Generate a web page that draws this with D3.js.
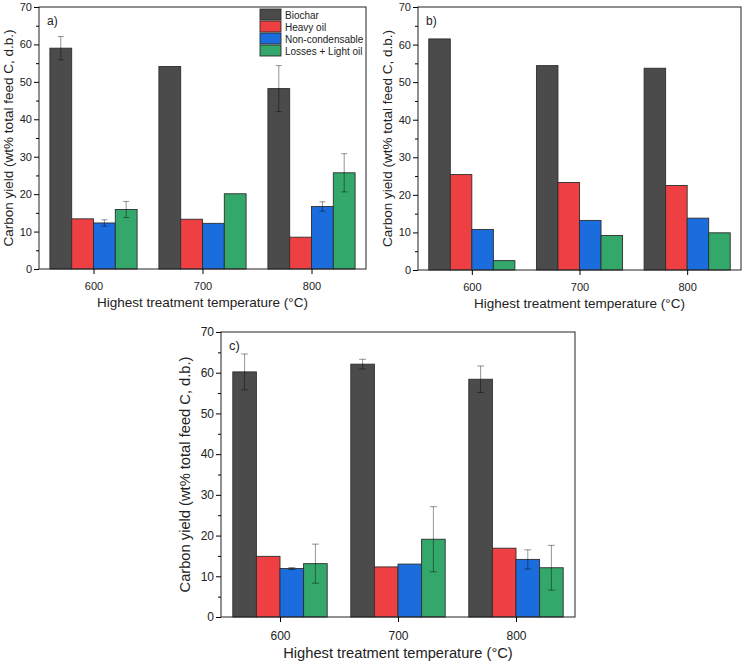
<!DOCTYPE html>
<html lang="en">
<head>
<meta charset="utf-8">
<script src="https://d3js.org/d3.v7.min.js"></script>
<style>
  body { margin: 0; padding: 0; background: #fff; }
  svg { display: block; font-family: "Liberation Sans", Arial, sans-serif; }
  .tick text { fill: #222; }
</style>
</head>
<body>
<svg id="chart" width="747" height="663"></svg>
<script>
// temperatures on the x axis
const temps = [600, 700, 800];
const seriesNames = ["Biochar", "Heavy oil", "Non-condensable", "Losses + Light oil"];
const seriesColors = ["#4b4b4b", "#ee4043", "#1b6cdc", "#34a76a"];
const yTicks = [0, 10, 20, 30, 40, 50, 60, 70];
const yMinorTicks = [5, 15, 25, 35, 45, 55, 65];

// panel a)
const aBiochar = [59.0, 54.1, 48.2];
const aBiocharErr = [3.1, 0, 6.15];
const aHeavy = [13.4, 13.3, 8.5];
const aHeavyErr = [0, 0, 0];
const aNonCond = [12.3, 12.2, 16.7];
const aNonCondErr = [0.85, 0, 1.25];
const aLosses = [15.9, 20.1, 25.7];
const aLossesErr = [2.15, 0, 5.1];

// panel b) (no error bars)
const bBiochar = [61.5, 54.4, 53.7];
const bHeavy = [25.4, 23.3, 22.5];
const bNonCond = [10.8, 13.2, 13.8];
const bLosses = [2.5, 9.2, 9.9];

// panel c)
const cBiochar = [60.2, 62.1, 58.4];
const cBiocharErr = [4.4, 1.2, 3.25];
const cHeavy = [14.9, 12.3, 16.9];
const cHeavyErr = [0, 0, 0];
const cNonCond = [11.9, 13.0, 14.15];
const cNonCondErr = [0.25, 0, 2.35];
const cLosses = [13.1, 19.1, 12.1];
const cLossesErr = [4.8, 8.0, 5.5];

const svg = d3.select('#chart');
svg.append('rect').attr('width', 747).attr('height', 663).attr('fill', '#fff');

function panel(opt) {
  const g = svg.append('g');
  const x = d3.scaleLinear().domain([550, 850]).range([opt.left, opt.right]);
  const y = d3.scaleLinear().domain([0, 70]).range([opt.bottom, opt.top]);
  const barW = x(620) - x(600);

  // bars
  opt.values.forEach((vals, s) => {
    g.selectAll(null)
     .data(vals)
     .enter()
     .append('rect')
     .attr('x', (d, i) => x(temps[i] - 40 + s * 20))
     .attr('y', d => y(d))
     .attr('width', barW)
     .attr('height', d => y(0) - y(d))
     .attr('fill', seriesColors[s])
     .attr('stroke', '#2e2e2e')
     .attr('stroke-width', 0.9);
  });

  // error bars
  if (opt.errors) {
    opt.errors.forEach((errs, s) => {
      errs.forEach((e, i) => {
        if (!e) return;
        const cx = x(temps[i] - 30 + s * 20);
        const v = opt.values[s][i];
        const eg = g.append('g')
          .attr('stroke', 'rgba(0,0,0,0.42)')
          .attr('stroke-width', 1);
        eg.append('line').attr('x1', cx).attr('x2', cx).attr('y1', y(v - e)).attr('y2', y(v + e));
        eg.append('line').attr('x1', cx - opt.cap).attr('x2', cx + opt.cap).attr('y1', y(v + e)).attr('y2', y(v + e));
        eg.append('line').attr('x1', cx - opt.cap).attr('x2', cx + opt.cap).attr('y1', y(v - e)).attr('y2', y(v - e));
      });
    });
  }

  // frame
  g.append('rect')
   .attr('x', opt.left).attr('y', opt.top)
   .attr('width', opt.right - opt.left).attr('height', opt.bottom - opt.top)
   .attr('fill', 'none').attr('stroke', '#222').attr('stroke-width', 1);

  // y axis
  const yAxis = d3.axisLeft(y).tickValues(yTicks).tickSize(5).tickPadding(2);
  g.append('g').attr('transform', 'translate(' + opt.left + ',0)').call(yAxis)
   .call(a => a.select('.domain').remove())
   .call(a => a.selectAll('text').attr('font-size', opt.tickFont).attr('font-family', 'Liberation Sans, Arial, sans-serif'));
  const yMinor = d3.axisLeft(y).tickValues(yMinorTicks).tickSize(3).tickFormat('');
  g.append('g').attr('transform', 'translate(' + opt.left + ',0)').call(yMinor)
   .call(a => a.select('.domain').remove());

  // x axis
  const xAxis = d3.axisBottom(x).tickValues(temps).tickSize(5).tickPadding(opt.xPad);
  g.append('g').attr('transform', 'translate(0,' + opt.bottom + ')').call(xAxis)
   .call(a => a.select('.domain').remove())
   .call(a => a.selectAll('text').attr('font-size', opt.tickFont).attr('font-family', 'Liberation Sans, Arial, sans-serif'));

  // titles
  g.append('text')
   .attr('x', (opt.left + opt.right) / 2 + opt.xTitleShift)
   .attr('y', opt.xTitleY)
   .attr('text-anchor', 'middle')
   .attr('font-size', opt.titleFont)
   .attr('fill', '#222')
   .text('Highest treatment temperature (°C)');
  g.append('text')
   .attr('transform', 'translate(' + opt.yTitleX + ',' + ((opt.top + opt.bottom) / 2) + ') rotate(-90)')
   .attr('text-anchor', 'middle')
   .attr('font-size', opt.titleFont)
   .attr('fill', '#222')
   .text('Carbon yield (wt% total feed C, d.b.)');

  // panel label
  g.append('text')
   .attr('x', opt.left + 8).attr('y', opt.top + 18)
   .attr('font-size', opt.tickFont + 1)
   .attr('fill', '#222')
   .text(opt.label);
}

panel({
  left: 39, right: 366, top: 7, bottom: 269,
  values: [aBiochar, aHeavy, aNonCond, aLosses],
  errors: [aBiocharErr, aHeavyErr, aNonCondErr, aLossesErr],
  cap: 3, tickFont: 11, titleFont: 13.5, xPad: 8,
  xTitleY: 307, xTitleShift: 0, yTitleX: 13, label: 'a)'
});
panel({
  left: 418, right: 741, top: 7, bottom: 270,
  values: [bBiochar, bHeavy, bNonCond, bLosses],
  errors: null,
  cap: 3, tickFont: 11, titleFont: 13.5, xPad: 8,
  xTitleY: 308, xTitleShift: 0, yTitleX: 392, label: 'b)'
});
panel({
  left: 221, right: 575, top: 332, bottom: 617,
  values: [cBiochar, cHeavy, cNonCond, cLosses],
  errors: [cBiocharErr, cHeavyErr, cNonCondErr, cLossesErr],
  cap: 3.5, tickFont: 12, titleFont: 14.7, xPad: 9,
  xTitleY: 658, xTitleShift: 0, yTitleX: 190, label: 'c)'
});

// legend in panel a)
const legend = svg.append('g').attr('transform', 'translate(260,9)');
seriesNames.forEach((name, i) => {
  const row = legend.append('g').attr('transform', 'translate(0,' + (i * 12) + ')');
  row.append('rect').attr('width', 21).attr('height', 11)
     .attr('fill', seriesColors[i]).attr('stroke', '#2e2e2e').attr('stroke-width', 0.9);
  row.append('text').attr('x', 25).attr('y', 9.5).attr('font-size', 10).attr('fill', '#222').text(name);
});
</script>
</body>
</html>
